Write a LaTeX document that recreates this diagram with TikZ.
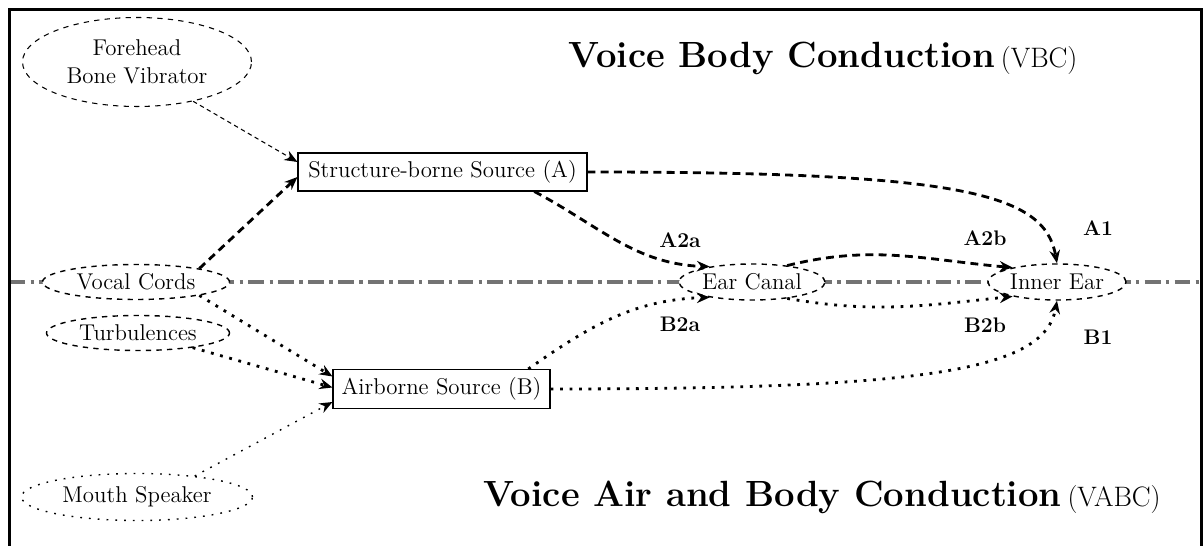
\documentclass[tikz,border=0pt]{standalone}
\usepackage{tikz}
\usetikzlibrary{positioning,arrows.meta,calc,shapes.geometric,backgrounds}
\newcommand{\nodesize}{\fontsize{13}{15.6}\selectfont}
\tikzset{
  >={Stealth[length=2.6mm,width=2.1mm]},
  srcbox/.style={draw=black,line width=0.6pt,fill=white,font=\nodesize,inner sep=2pt},
  organ/.style={ellipse,draw=black,dashed,line width=0.8pt,fill=white,
    font=\nodesize,inner sep=1pt,align=center},
  thinorgan/.style={organ,line width=0.6pt},
  spkorgan/.style={ellipse,draw=black,line width=0.8pt,fill=white,font=\nodesize,
    inner sep=1pt,dash pattern=on 1pt off 4pt},
  vbcedge/.style={->,line width=1.6pt,dash pattern=on 4.5pt off 3pt},
  vacedge/.style={->,line width=1.6pt,dash pattern=on 1.6pt off 3.8pt},
  weakedge/.style={->,line width=0.6pt,dash pattern=on 2.5pt off 2pt},
  weakdots/.style={->,line width=0.8pt,dash pattern=on 1pt off 4pt},
  pathlbl/.style={font=\large\bfseries,inner sep=1pt},
  midline/.style={black!55,line width=1.8pt,dash pattern=on 9pt off 3pt on 2pt off 3pt},
  frameline/.style={line width=1.5pt},
  titlelbl/.style={inner sep=0pt},
}
\begin{document}
\begin{tikzpicture}
  \useasboundingbox (0,0) rectangle (24.08,10.92);
  \draw[frameline] (0.19,0) |- (24.03,10.73) -- (24.03,0);

  \node[thinorgan,minimum width=4.58cm,minimum height=1.78cm] (fh) at (2.74,9.68) {Forehead\\Bone Vibrator};
  \node[organ,minimum width=3.74cm,minimum height=0.7cm] (vc) at (2.72,5.28) {Vocal Cords};
  \node[organ,minimum width=3.66cm,minimum height=0.7cm] (tb) at (2.76,4.26) {Turbulences};
  \node[spkorgan,minimum width=4.62cm,minimum height=0.94cm] (ms) at (2.74,0.98) {Mouth Speaker};
  \node[srcbox,minimum width=5.78cm,minimum height=0.76cm] (sa) at (8.85,7.48) {Structure-borne Source (A)};
  \node[srcbox,minimum width=4.34cm,minimum height=0.78cm] (sb) at (8.83,3.14) {Airborne Source (B)};
  \node[organ,minimum width=2.6cm,minimum height=0.72cm] (ec) at (15.04,5.28) {Ear Canal};
  \node[organ,minimum width=2.4cm,minimum height=0.72cm] (ie) at (21.14,5.28) {Inner Ear};

  \begin{scope}[on background layer]
    \coordinate (ml0) at (0.19,5.28);
    \coordinate (ml1) at (24.08,5.28);
    \draw[midline] (ml0) -- (ml1);
  \end{scope}

  \node[titlelbl] (vbct) at (16.46,9.76) {{\huge\bfseries Voice Body Conduction} {\fontsize{16}{19}\selectfont(VBC)}};
  \node[titlelbl] (vabct) at (16.44,0.98) {{\huge\bfseries Voice Air and Body Conduction} {\fontsize{16}{19}\selectfont(VABC)}};

  \draw[weakedge] (fh.-35) -- ([yshift=2mm]sa.west);
  \draw[vbcedge] (vc.12) -- ([yshift=-1mm]sa.west);
  \draw[vbcedge] (sa.east) .. controls +(7.5,0) and +(-0.25,1.4) .. (ie.north);
  \draw[vbcedge] (sa.-12) to[out=-28,in=178] (ec.160);
  \draw[vbcedge] (ec.25) to[out=14,in=175] (ie.162);
  \draw[vacedge] (ec.-25) to[out=-10,in=186] (ie.-162);
  \draw[vacedge] (sb.13) to[out=35,in=182] (ec.-160);
  \draw[vacedge] (sb.east) .. controls +(7.5,0) and +(-0.25,-1.4) .. (ie.south);
  \draw[vacedge] (vc.-12) -- ([yshift=2.5mm]sb.west);
  \draw[vacedge] (tb.-15) -- ([yshift=0.3mm]sb.west);
  \draw[weakdots] (ms.20) -- ([yshift=-2.6mm]sb.west);

  \node[pathlbl] (la1) at (21.96,6.36) {A1};
  \node[pathlbl] (la2a) at (13.6,6.12) {A2a};
  \node[pathlbl] (la2b) at (19.7,6.16) {A2b};
  \node[pathlbl] (lb2a) at (13.6,4.44) {B2a};
  \node[pathlbl] (lb2b) at (19.7,4.42) {B2b};
  \node[pathlbl] (lb1) at (21.96,4.18) {B1};
\end{tikzpicture}
\end{document}
